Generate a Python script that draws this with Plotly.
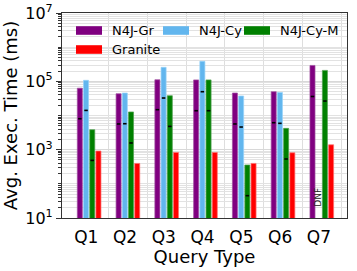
import plotly.graph_objects as go

# ---------------- data ----------------
categories = ["Q1", "Q2", "Q3", "Q4", "Q5", "Q6", "Q7"]
n4j_gr = [63000, 43400, 111000, 110000, 45500, 49700, 292000]
n4j_cy = [107000, 45500, 257000, 384000, 37200, 47400, None]
n4j_cy_m = [3840, 12700, 38000, 110000, 356, 4200, 209000]
granite = [912, 396, 830, 830, 396, 810, 1390]
# short black markers drawn inside the bars
n4j_gr_mark = [8050, 5650, 14800, 13800, 5650, 6150, 36000]
n4j_cy_mark = [14100, 5750, 32500, 49700, 4600, 5900, None]
n4j_cy_m_mark = [485, 1570, 4800, 13800, 45, 533, 26500]

names = ["N4J-Gr", "N4J-Cy", "N4J-Cy-M", "Granite"]
colors = ["#800080", "#62b6ee", "#008000", "#ff0000"]
edges = ["rgba(160,80,160,0.9)", "rgba(150,210,250,0.9)",
         "rgba(80,160,80,0.9)", "rgba(255,110,110,0.9)"]
series = [n4j_gr, n4j_cy, n4j_cy_m, granite]
marks = [n4j_gr_mark, n4j_cy_mark, n4j_cy_m_mark, None]

FONT = "DejaVu Sans"
W, H = 357, 271
L, R, T, B = 62, 10, 13, 53

bargap = 0.36
slot = (1 - bargap) / 4
xs = list(range(len(categories)))

fig = go.Figure()
for k, (nm, vals) in enumerate(zip(names, series)):
    fig.add_trace(go.Bar(
        x=xs, y=vals, name=nm, marker_color=colors[k],
        marker_line=dict(color=edges[k], width=0.8),
        showlegend=False,
    ))
for k, m in enumerate(marks):
    if m is None:
        continue
    off = (k - 1.5) * slot
    fig.add_trace(go.Scatter(
        x=[i + off for i in xs], y=m, mode="markers",
        marker=dict(symbol="line-ew", size=2.5, line=dict(color="black", width=1.6)),
        showlegend=False, hoverinfo="skip",
    ))

# DNF label for missing N4J-Cy Q7
fig.add_annotation(x=6 - 0.5 * slot - 0.02, y=1.62, text="DNF", showarrow=False,
                   textangle=-90, font=dict(family=FONT, size=9, color="#222"))

# custom legend (matplotlib style wide swatches)
pw, ph = W - L - R, H - T - B
def px(x):
    return (x - L) / pw
def py(y):
    return (H - B - y) / ph

legend_items = [
    (names[0], colors[0], 76, 30.5),
    (names[1], colors[1], 163, 30.5),
    (names[2], colors[2], 244, 30.5),
    (names[3], colors[3], 76, 49.5),
]
for nm, c, x0, yc in legend_items:
    fig.add_shape(type="rect", xref="paper", yref="paper",
                  x0=px(x0), x1=px(x0 + 26), y0=py(yc + 4.3), y1=py(yc - 4.3),
                  fillcolor=c, line=dict(width=0))
    fig.add_annotation(xref="paper", yref="paper", x=px(x0 + 34), y=py(yc),
                       text=nm, showarrow=False, xanchor="left", yanchor="middle",
                       font=dict(family=FONT, size=13, color="black"))

major = [10, 1e3, 1e5, 1e7]
minor_vals = []
for e in range(1, 7):
    for d in range(1, 10):
        v = d * 10 ** e
        if v not in major:
            minor_vals.append(v)

fig.update_layout(
    width=W, height=H,
    margin=dict(l=L, r=R, t=T, b=B, autoexpand=False),
    plot_bgcolor="white", paper_bgcolor="white",
    barmode="group", bargap=bargap, bargroupgap=0.1875,
    font=dict(family=FONT, color="black"),
)
fig.update_xaxes(
    automargin=False,
    range=[-0.70, 6.65],
    tickvals=[i - 0.075 for i in xs], ticktext=categories,
    tickfont=dict(size=17), ticks="", ticklabelstandoff=3,
    showgrid=False,
    minor=dict(tickvals=[i + 0.5 for i in xs], showgrid=True,
               gridcolor="#dedede", gridwidth=1, ticks=""),
    showline=True, linecolor="#333", linewidth=1.2, mirror=True,
    title=dict(text="Query Type", font=dict(size=18), standoff=2),
    zeroline=False,
)
fig.update_yaxes(
    automargin=False,
    type="log", range=[1, 7],
    tickvals=major, ticktext=["10<sup>1</sup>", "10<sup>3</sup>", "10<sup>5</sup>", "10<sup>7</sup>"],
    tickfont=dict(size=16), ticks="outside", ticklen=5, tickcolor="#333",
    showgrid=True, gridcolor="#d8d8d8", gridwidth=1,
    minor=dict(tickvals=minor_vals, showgrid=True, gridcolor="#e2e2e2",
               gridwidth=1, ticks="outside", ticklen=3, tickcolor="#333"),
    showline=True, linecolor="#333", linewidth=1.2, mirror=True,
    title=dict(text="Avg. Exec. Time (ms)", font=dict(size=18), standoff=2),
    zeroline=False,
)

fig.write_html("out.html", config={"displayModeBar": False},
               post_script="document.body.style.margin='0';document.body.style.overflow='hidden';")
